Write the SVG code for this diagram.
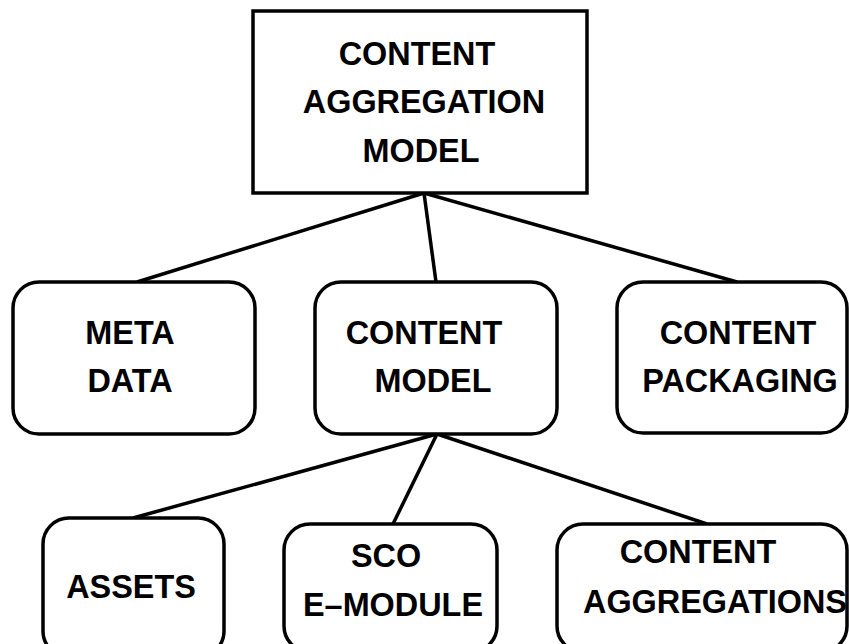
<svg xmlns="http://www.w3.org/2000/svg" width="849" height="644" viewBox="0 0 849 644">
<style>
.box{fill:#fff;stroke:#000;stroke-width:3.5}
.lbl{font-family:"Liberation Sans",Arial,sans-serif;font-weight:bold;font-size:32.4px;fill:#000;text-anchor:middle}
.conn line{stroke:#000;stroke-width:3.5}
</style>
<rect width="849" height="644" fill="#fff"/>
<g class="conn">
<line x1="424" y1="193" x2="137" y2="282"/>
<line x1="424" y1="193" x2="436" y2="282"/>
<line x1="424" y1="193" x2="737" y2="282"/>
<line x1="437" y1="434" x2="133" y2="518"/>
<line x1="437" y1="434" x2="393" y2="524"/>
<line x1="437" y1="434" x2="707" y2="524"/>
</g>
<g id="cam">
<rect class="box" x="253" y="11" width="334" height="182"/>
<text class="lbl" x="417" y="65">CONTENT</text>
<text class="lbl" x="424" y="113">AGGREGATION</text>
<text class="lbl" x="421" y="162">MODEL</text>
</g>
<g id="metadata">
<rect class="box" x="13" y="282" width="242" height="152" rx="26"/>
<text class="lbl" x="130" y="344">META</text>
<text class="lbl" x="130" y="392">DATA</text>
</g>
<g id="contentmodel">
<rect class="box" x="315" y="282" width="242" height="152" rx="26"/>
<text class="lbl" x="424" y="344">CONTENT</text>
<text class="lbl" x="433" y="392">MODEL</text>
</g>
<g id="packaging">
<rect class="box" x="617" y="282" width="230" height="151" rx="26"/>
<text class="lbl" x="738" y="344">CONTENT</text>
<text class="lbl" x="740" y="392">PACKAGING</text>
</g>
<g id="assets">
<rect class="box" x="43" y="518" width="181" height="139" rx="26"/>
<text class="lbl" x="131" y="598">ASSETS</text>
</g>
<g id="sco">
<rect class="box" x="284" y="524" width="213" height="128" rx="26"/>
<text class="lbl" x="386" y="567">SCO</text>
<text class="lbl" x="393" y="616">E–MODULE</text>
</g>
<g id="aggregations">
<rect class="box" x="557" y="524" width="290" height="128" rx="26"/>
<text class="lbl" x="698" y="563">CONTENT</text>
<text class="lbl" x="715" y="613">AGGREGATIONS</text>
</g>
</svg>
